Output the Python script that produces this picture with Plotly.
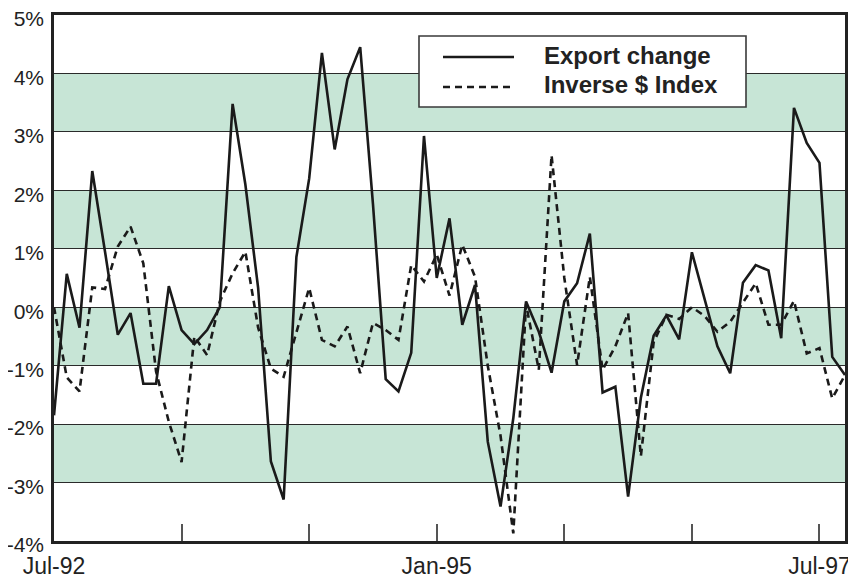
import plotly.graph_objects as go

# Monthly observations, Jul-92 .. Sep-97 (63 months)
months = ["Jul-92", "Aug-92", "Sep-92", "Oct-92", "Nov-92", "Dec-92",
          "Jan-93", "Feb-93", "Mar-93", "Apr-93", "May-93", "Jun-93",
          "Jul-93", "Aug-93", "Sep-93", "Oct-93", "Nov-93", "Dec-93",
          "Jan-94", "Feb-94", "Mar-94", "Apr-94", "May-94", "Jun-94",
          "Jul-94", "Aug-94", "Sep-94", "Oct-94", "Nov-94", "Dec-94",
          "Jan-95", "Feb-95", "Mar-95", "Apr-95", "May-95", "Jun-95",
          "Jul-95", "Aug-95", "Sep-95", "Oct-95", "Nov-95", "Dec-95",
          "Jan-96", "Feb-96", "Mar-96", "Apr-96", "May-96", "Jun-96",
          "Jul-96", "Aug-96", "Sep-96", "Oct-96", "Nov-96", "Dec-96",
          "Jan-97", "Feb-97", "Mar-97", "Apr-97", "May-97", "Jun-97",
          "Jul-97", "Aug-97", "Sep-97"]

export_change = [-1.85, 0.57, -0.35, 2.33, 0.95, -0.47, -0.10, -1.31, -1.31, 0.36,
                 -0.39, -0.63, -0.39, 0.00, 3.48, 2.10, 0.33, -2.64, -3.29, 0.86,
                 2.20, 4.35, 2.70, 3.90, 4.45, 1.77, -1.23, -1.44, -0.78, 2.93,
                 0.50, 1.52, -0.30, 0.38, -2.30, -3.41, -1.90, 0.10, -0.42, -1.12,
                 0.10, 0.41, 1.26, -1.46, -1.36, -3.24, -1.55, -0.49, -0.14, -0.55,
                 0.94, 0.12, -0.67, -1.13, 0.42, 0.72, 0.63, -0.53, 3.41, 2.81,
                 2.47, -0.85, -1.16]

inverse_dollar_index = [0.00, -1.20, -1.44, 0.34, 0.31, 1.04, 1.38, 0.75, -1.10, -1.96,
                        -2.65, -0.50, -0.82, 0.10, 0.58, 0.95, -0.35, -1.05, -1.19, -0.45,
                        0.33, -0.56, -0.67, -0.33, -1.13, -0.27, -0.39, -0.56, 0.72, 0.44,
                        0.90, 0.20, 1.07, 0.52, -1.00, -2.20, -3.87, 0.05, -1.07, 2.60,
                        0.50, -0.99, 0.52, -1.07, -0.67, -0.10, -2.55, -0.60, -0.13, -0.20,
                        0.00, -0.15, -0.42, -0.25, 0.08, 0.41, -0.30, -0.30, 0.11, -0.79,
                        -0.70, -1.56, -1.16]

series_names = ["Export change", "Inverse $ Index"]

tick_positions = [0, 10, 20, 30, 40, 50, 60]
tick_labels = ["Jul-92", "", "", "Jan-95", "", "", "Jul-97"]

y_ticks = [-4, -3, -2, -1, 0, 1, 2, 3, 4, 5]
y_labels = ["-4%", "-3%", "-2%", "-1%", "0%", "1%", "2%", "3%", "4%", "5%"]

band_ranges = [(3, 4), (1, 2), (-1, 0), (-3, -2)]

x = list(range(len(months)))

# page has an 8px body margin; figure sized/offset to compensate
OFF = 8
W, H = 848, 572
L, T = 54 - OFF, 15 - OFF
pw, ph = 791, 526
R, B = W - L - pw, H - T - ph


def px_x(p):
    return (p - OFF - L) / pw


def px_y(p):
    return (T + ph - (p - OFF)) / ph


fig = go.Figure()

fig.add_trace(go.Scatter(
    x=x, y=export_change, mode="lines", name=series_names[0],
    line=dict(color="#1a1a1a", width=2.6), showlegend=False,
    customdata=months, hovertemplate="%{customdata}: %{y:.2f}%<extra></extra>"))
fig.add_trace(go.Scatter(
    x=x, y=inverse_dollar_index, mode="lines", name=series_names[1],
    line=dict(color="#1a1a1a", width=2.6, dash="7px,5px"), showlegend=False,
    customdata=months, hovertemplate="%{customdata}: %{y:.2f}%<extra></extra>"))

shapes = []
for lo, hi in band_ranges:
    shapes.append(dict(type="rect", xref="paper", yref="y", x0=0, x1=1, y0=lo, y1=hi,
                       fillcolor="#c7e5d6", line=dict(width=0), layer="below"))

# legend box
shapes.append(dict(type="rect", xref="paper", yref="paper",
                   x0=px_x(419), x1=px_x(746), y0=px_y(107), y1=px_y(36),
                   fillcolor="white", line=dict(color="#3a3a3a", width=1.6), layer="above"))
shapes.append(dict(type="line", xref="paper", yref="paper",
                   x0=px_x(443), x1=px_x(514), y0=px_y(57), y1=px_y(57),
                   line=dict(color="#1a1a1a", width=2.6), layer="above"))
shapes.append(dict(type="line", xref="paper", yref="paper",
                   x0=px_x(443), x1=px_x(514), y0=px_y(87), y1=px_y(87),
                   line=dict(color="#1a1a1a", width=2.6, dash="7px,5px"), layer="above"))

annotations = [
    dict(xref="paper", yref="paper", x=px_x(542), y=px_y(55.6), xanchor="left", yanchor="middle",
         text="<b>%s</b>" % series_names[0], showarrow=False,
         font=dict(family="Liberation Sans, Arial, sans-serif", size=24, color="#222")),
    dict(xref="paper", yref="paper", x=px_x(542), y=px_y(84.3), xanchor="left", yanchor="middle",
         text="<b>%s</b>" % series_names[1], showarrow=False,
         font=dict(family="Liberation Sans, Arial, sans-serif", size=24, color="#222")),
]

fig.update_layout(
    width=W, height=H,
    margin=dict(l=L, r=R, t=T, b=B, pad=0, autoexpand=False),
    paper_bgcolor="white", plot_bgcolor="white",
    shapes=shapes, annotations=annotations,
    showlegend=False,
    font=dict(family="Liberation Sans, Arial, sans-serif", color="#222"),
)

fig.update_xaxes(
    range=[0, 62], tickvals=tick_positions, ticktext=tick_labels,
    ticks="inside", ticklen=17, tickwidth=1.6, tickcolor="#555",
    showgrid=False, zeroline=False, automargin=False,
    showline=True, linecolor="#222", linewidth=2.6, mirror=True,
    tickfont=dict(size=23, color="#222"), ticklabelstandoff=3,
    ticklabeloverflow="allow",
)
fig.update_yaxes(
    range=[-4, 5], tickvals=y_ticks, ticktext=y_labels,
    ticks="", showgrid=True, gridcolor="#2a2a2a", gridwidth=1.3,
    zeroline=False, automargin=False,
    showline=True, linecolor="#222", linewidth=2.6, mirror=True,
    tickfont=dict(size=21, color="#222"), ticklabelstandoff=3,
    ticklabelshift=4, ticklabeloverflow="allow",
)

fig.write_html("out.html")
